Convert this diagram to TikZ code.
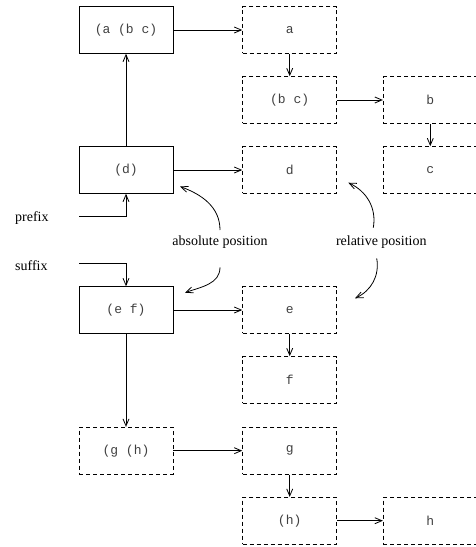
\documentclass[tikz,border=0pt]{standalone}
\usepackage{fontspec}
\setmainfont{Liberation Serif}
\newfontfamily\monofam{Liberation Mono}
\usetikzlibrary{arrows.meta}
\begin{document}
\begin{tikzpicture}[x=1pt,y=-1pt,
  box/.style={draw, line width=0.9pt, minimum width=94pt, minimum height=46.7pt, inner sep=0pt,
    font=\monofam\fontsize{13}{15}\selectfont, text=black!75},
  dbox/.style={box, dash pattern=on 4pt off 3pt},
  arr/.style={line width=0.8pt, -{Straight Barb[length=7pt,width=6pt]}},
  lbl/.style={font=\fontsize{14}{16}\selectfont, inner sep=0pt}]
\useasboundingbox (0,0) rectangle (475,547);
% boxes
\node[box]  (abc) at (126,30)    {(a (b c)};
\node[dbox] (a)   at (289.7,30)  {a};
\node[dbox] (bc)  at (289.7,100) {(b c)};
\node[dbox] (b)   at (430.3,100) {b};
\node[dbox] (c)   at (430.3,170) {c};
\node[box]  (dd)  at (126,170)   {(d)};
\node[dbox] (d)   at (289.7,170) {d};
\node[box]  (ef)  at (126,310)   {(e f)};
\node[dbox] (e)   at (289.7,310) {e};
\node[dbox] (f)   at (289.7,380) {f};
\node[dbox] (gh)  at (126,450.7) {(g (h)};
\node[dbox] (g)   at (289.7,450.7) {g};
\node[dbox] (hh)  at (289.7,520.7) {(h)};
\node[dbox] (h)   at (430.3,520.7) {h};
% labels
\node[lbl, anchor=west] (prefix) at (15,218.3) {prefix};
\node[lbl, anchor=west] (suffix) at (15,265.7) {suffix};
\node[lbl] (abs) at (220,241.7) {absolute position};
\node[lbl] (rel) at (381.3,241.7) {relative position};
% straight connectors
\draw[arr] (abc) -- (a);
\draw[arr] (a) -- (bc);
\draw[arr] (bc) -- (b);
\draw[arr] (b) -- (c);
\draw[arr] (dd) -- (abc);
\draw[arr] (dd) -- (d);
\coordinate (pstart) at (79,216.7);
\coordinate (sstart) at (79,263.3);
\draw[arr] (pstart) -| (dd.south);
\draw[arr] (sstart) -| (ef.north);
\draw[arr] (ef) -- (e);
\draw[arr] (e) -- (f);
\draw[arr] (ef) -- (gh);
\draw[arr] (gh) -- (g);
\draw[arr] (g) -- (hh);
\draw[arr] (hh) -- (h);
% curved connectors
\coordinate (abs1) at (220,230);
\coordinate (abs2) at (180,186.5);
\coordinate (abs3) at (220,267.3);
\coordinate (abs4) at (185,292.7);
\coordinate (rel1) at (373.3,227.7);
\coordinate (rel2) at (348.3,182.7);
\coordinate (rel3) at (376.7,258.3);
\coordinate (rel4) at (355,298.3);
\draw[arr] (abs1) to[out=90, in=-20] (abs2);
\draw[arr] (abs3) to[out=-90, in=20] (abs4);
\draw[arr] (rel1) to[out=80, in=-25] (rel2);
\draw[arr] (rel3) to[out=-80, in=25] (rel4);
\end{tikzpicture}
\end{document}
